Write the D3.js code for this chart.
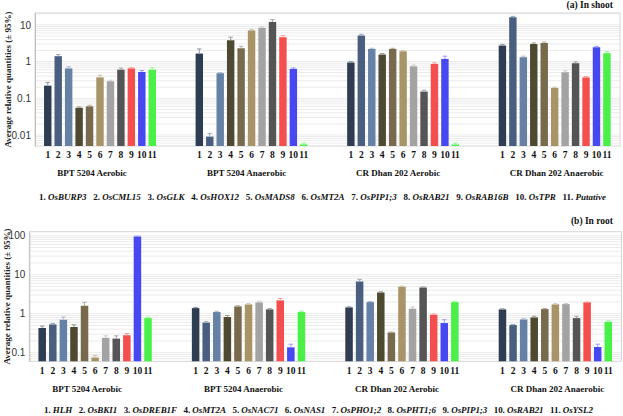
<!DOCTYPE html>
<html><head><meta charset="utf-8">
<script src="https://cdn.jsdelivr.net/npm/d3@7"></script>
<style>body{margin:0;background:#fff}</style>
</head><body>
<svg id="c" width="623" height="416"></svg>
<script>
// ---------- data ----------
const groups = ["BPT 5204 Aerobic", "BPT 5204 Anaerobic", "CR Dhan 202 Aerobic", "CR Dhan 202 Anaerobic"];
const barLabels = ["1","2","3","4","5","6","7","8","9","10","11"];
const barColors = ["#2f3d52","#4a5f80","#6581a6","#4e4a32","#786a4c","#a89466","#a3a3a3","#555555","#f44e4e","#4848f2","#48f048"];

const shootGenes = ["OsBURP3","OsCML15","OsGLK","OsHOX12","OsMADS8","OsMT2A","OsPIP1;3","OsRAB21","OsRAB16B","OsTPR","Putative"];
const shootValues = [
  [0.22, 1.4, 0.65, 0.055, 0.06, 0.37, 0.29, 0.6, 0.65, 0.52, 0.6],
  [1.65, 0.009, 0.48, 3.8, 2.3, 7.0, 8.3, 12, 4.6, 0.63, 0.0055],
  [0.94, 5.1, 2.2, 1.55, 2.2, 1.9, 0.74, 0.152, 0.86, 1.18, 0.0055],
  [2.73, 16.1, 1.31, 3.0, 3.2, 0.19, 0.51, 0.9, 0.37, 2.45, 1.69]
];
const shootErrUpper = [
  [0.27, 1.55, 0.72, 0.058, 0.064, 0.42, 0.31, 0.66, 0.68, 0.57, 0.68],
  [2.2, 0.011, 0.5, 4.6, 2.6, 7.5, 8.8, 13.8, 5.1, 0.67, 0.006],
  [1.0, 5.5, 2.3, 1.65, 2.3, 2.0, 0.8, 0.165, 0.92, 1.4, 0.006],
  [2.95, 17, 1.4, 3.2, 3.4, 0.2, 0.56, 0.98, 0.39, 2.6, 1.85]
];
const shootTicks = [0.01, 0.1, 1, 10];

const rootGenes = ["HLH","OsBKI1","OsDREB1F","OsMT2A","OsNAC71","OsNAS1","OsPHO1;2","OsPHT1;6","OsPIP1;3","OsRAB21","OsYSL2"];
const rootValues = [
  [0.43, 0.53, 0.70, 0.455, 1.6, 0.075, 0.24, 0.23, 0.28, 96, 0.77],
  [1.39, 0.59, 1.1, 0.82, 1.54, 1.73, 1.95, 1.29, 2.19, 0.137, 1.1],
  [1.45, 6.7, 1.98, 3.5, 0.33, 4.9, 1.34, 4.7, 0.94, 0.575, 1.98],
  [1.29, 0.51, 0.71, 0.8, 1.31, 1.73, 1.76, 0.77, 1.95, 0.14, 0.62]
];
const rootErrUpper = [
  [0.48, 0.56, 0.82, 0.52, 1.95, 0.085, 0.27, 0.27, 0.31, 98, 0.82],
  [1.45, 0.62, 1.15, 0.9, 1.6, 1.8, 2.1, 1.35, 2.45, 0.165, 1.16],
  [1.5, 7.6, 2.05, 3.65, 0.34, 5.1, 1.48, 4.85, 0.98, 0.7, 2.1],
  [1.33, 0.53, 0.74, 0.86, 1.36, 1.8, 1.82, 0.86, 2.0, 0.165, 0.66]
];
const rootTicks = [0.1, 1, 10, 100];

// ---------- drawing ----------
const svg = d3.select("#c");
const serif = "'Liberation Serif','Times New Roman',serif";
const sans = "'Liberation Sans',Arial,sans-serif";
const groupStep = 14.5;
const groupLabelShift = [-8, -5, -5, 2];

function panel(cfg) {
  const x = d3.scaleLinear().domain([-1.22, 54.75]).range([cfg.left, cfg.right]);
  const y = d3.scaleLog().domain(cfg.domain).range([cfg.bottom, cfg.top]);
  const step = x(1) - x(0);
  const bw = step * 0.71;
  const g = svg.append("g");

  // gridlines at minor log ticks
  const gridVals = [];
  const lo = Math.floor(Math.log10(cfg.domain[0])), hi = Math.ceil(Math.log10(cfg.domain[1]));
  for (let k = lo; k <= hi; k++) for (let m = 1; m <= 9; m++) {
    const v = m * Math.pow(10, k);
    if (v > cfg.domain[0] && v < cfg.domain[1]) gridVals.push(v);
  }
  g.selectAll(".grid").data(gridVals).join("line")
    .attr("x1", cfg.left).attr("x2", cfg.right)
    .attr("y1", d => y(d)).attr("y2", d => y(d))
    .attr("stroke", "#ebebeb").attr("stroke-width", 1);

  // frame
  g.append("rect").attr("x", cfg.left).attr("y", cfg.top)
    .attr("width", cfg.right - cfg.left).attr("height", cfg.bottom - cfg.top)
    .attr("fill", "none").attr("stroke", "#d6d6d6");

  // y axis
  const yAxis = d3.axisLeft(y).tickValues(cfg.ticks).tickFormat(d3.format("~g")).tickSize(0).tickPadding(4);
  const ya = g.append("g").attr("transform", `translate(${cfg.left},0)`).call(yAxis);
  ya.select(".domain").attr("stroke", "#bfbfbf");
  ya.selectAll("text").attr("font-family", sans).attr("font-size", 10).attr("fill", "#333");

  // bars
  const flat = [];
  cfg.values.forEach((row, gi) => row.forEach((v, i) => flat.push({gi, i, v, e: cfg.err[gi][i]})));
  const slot = d => d.gi * groupStep + d.i;
  g.selectAll(".bar").data(flat).join("rect")
    .attr("x", d => x(slot(d)) - bw / 2).attr("width", bw)
    .attr("y", d => y(d.v)).attr("height", d => cfg.bottom - y(d.v))
    .attr("fill", d => barColors[d.i]);
  // error bars
  const eg = g.selectAll(".err").data(flat).join("g");
  eg.append("line").attr("x1", d => x(slot(d))).attr("x2", d => x(slot(d)))
    .attr("y1", d => y(d.v)).attr("y2", d => y(d.e))
    .attr("stroke", d => d3.interpolateRgb(barColors[d.i], "#fff")(0.45)).attr("stroke-width", 1);
  eg.append("line").attr("x1", d => x(slot(d)) - bw * 0.3).attr("x2", d => x(slot(d)) + bw * 0.3)
    .attr("y1", d => y(d.e)).attr("y2", d => y(d.e))
    .attr("stroke", d => d3.interpolateRgb(barColors[d.i], "#fff")(0.45)).attr("stroke-width", 1);

  // bar number labels
  g.selectAll(".bl").data(flat).join("text")
    .attr("x", d => x(slot(d))).attr("y", cfg.tickY)
    .attr("text-anchor", "middle").attr("font-family", serif).attr("font-weight", "bold")
    .attr("font-size", 9.5).attr("fill", "#111").text(d => barLabels[d.i]);

  // group labels
  g.selectAll(".gl").data(groups).join("text")
    .attr("x", (d, gi) => x(gi * groupStep + 5) + groupLabelShift[gi]).attr("y", cfg.groupY)
    .attr("text-anchor", "middle").attr("font-family", serif).attr("font-weight", "bold")
    .attr("font-size", 9).attr("fill", "#111").text(d => d);

  // y axis title
  g.append("text")
    .attr("transform", `translate(${cfg.yTitleX},${(cfg.top + cfg.bottom) / 2}) rotate(-90)`)
    .attr("text-anchor", "middle").attr("font-family", serif).attr("font-weight", "bold")
    .attr("font-size", 9).attr("fill", "#222").text("Average relative quantities (± 95%)");

  // panel title
  g.append("text").attr("x", 613).attr("y", cfg.titleY).attr("text-anchor", "end")
    .attr("font-family", serif).attr("font-weight", "bold").attr("font-size", 9.5)
    .attr("fill", "#111").text(cfg.title);

  // legend
  const lt = g.append("text").attr("x", cfg.legX0).attr("y", cfg.legY)
    .attr("font-family", serif).attr("font-weight", "bold").attr("font-size", 9).attr("fill", "#111");
  cfg.genes.forEach((gn, i) => {
    lt.append("tspan").text((i ? "   " : "") + (i + 1) + ". ").attr("xml:space", "preserve");
    lt.append("tspan").attr("font-style", "italic").text(gn);
  });
  lt.attr("xml:space", "preserve");
  lt.attr("textLength", cfg.legX1 - cfg.legX0).attr("lengthAdjust", "spacing");
}

panel({
  left: 35, right: 620, top: 13, bottom: 146, domain: [0.005, 21], ticks: shootTicks,
  values: shootValues, err: shootErrUpper, genes: shootGenes,
  tickY: 158, groupY: 176, legY: 200, legX0: 39, legX1: 606, yTitleX: 11, titleY: 8,
  title: "(a) In shoot"
});
panel({
  left: 29.3, right: 621.5, top: 231.7, bottom: 361.3, domain: [0.06, 127], ticks: rootTicks,
  values: rootValues, err: rootErrUpper, genes: rootGenes,
  tickY: 374, groupY: 392, legY: 413, legX0: 44, legX1: 593, yTitleX: 10, titleY: 224,
  title: "(b) In root"
});
</script>
</body></html>
